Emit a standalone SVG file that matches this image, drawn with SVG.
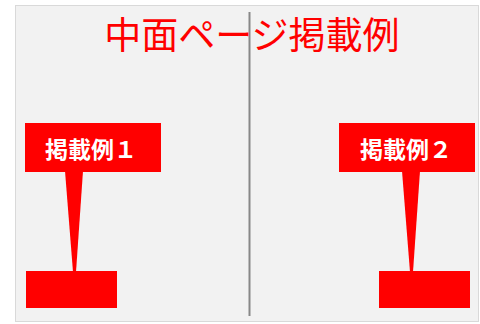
<svg xmlns="http://www.w3.org/2000/svg" width="480" height="324" viewBox="0 0 480 324">
<style>
.red{fill:#FF0000}
.lbl{font-family:"Noto Sans CJK JP","Noto Sans CJK SC",sans-serif;font-weight:bold;font-size:23px;fill:#FFFFFF;text-anchor:middle}
.title{font-family:"Noto Sans CJK JP","Noto Sans CJK SC",sans-serif;font-size:37px;fill:#FF0000;text-anchor:middle}
</style>
<rect width="480" height="324" fill="#FFFFFF"/>
<rect id="page" x="15.5" y="5.5" width="463" height="316" fill="#F2F2F2" stroke="#D9D9D9" stroke-width="1"/>
<line id="divider" x1="249.5" y1="12" x2="249.5" y2="316" stroke="#888888" stroke-width="2"/>
<text id="title" class="title" x="252" y="49">中面ページ掲載例</text>
<g id="connectors">
<polygon class="red" points="65,171 83,171 76,272 73,272"/>
<polygon class="red" points="402,171 420,171 413,272 410,272"/>
</g>
<g id="label1">
<rect class="red" x="25" y="123" width="136" height="49"/>
<text class="lbl" x="91" y="158">掲載例１</text>
</g>
<g id="target1">
<rect class="red" x="26" y="271" width="91" height="37"/>
</g>
<g id="label2">
<rect class="red" x="339" y="123" width="136" height="49"/>
<text class="lbl" x="406" y="158">掲載例２</text>
</g>
<g id="target2">
<rect class="red" x="379" y="271" width="91" height="37"/>
</g>
</svg>
